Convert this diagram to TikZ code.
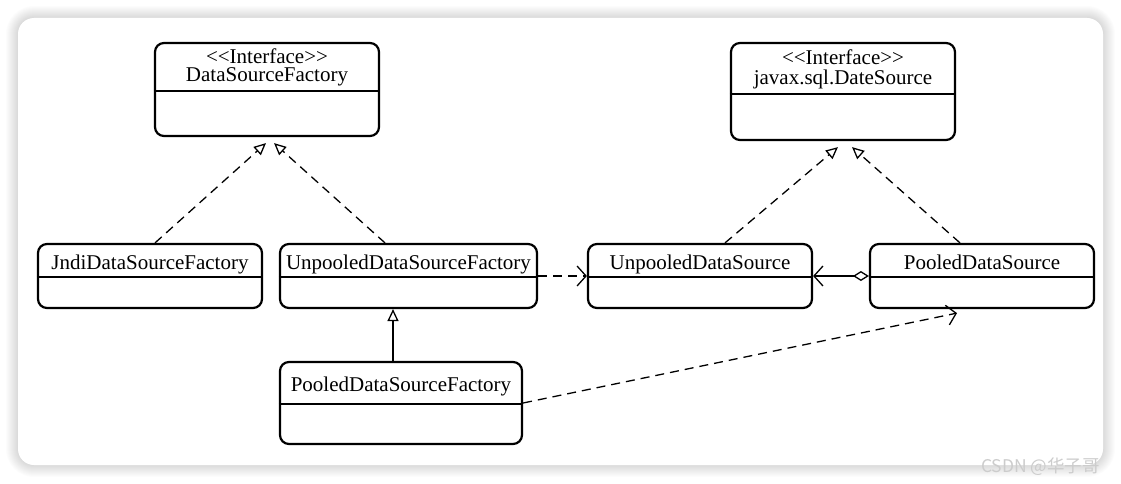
\documentclass[tikz,border=0pt]{standalone}
\usepackage{fontspec}
\setmainfont{Liberation Serif}[Ligatures=TeXOff]
\newfontfamily\cjk{Noto Sans CJK SC}
\usetikzlibrary{arrows.meta,calc}
\begin{document}
\begin{tikzpicture}[x=1pt,y=1pt,
  cls/.style={draw, line width=2.2pt, rounded corners=9pt, fill=white, inner sep=0pt},
  lbl/.style={font=\fontsize{21}{18}\selectfont, inner sep=0pt, anchor=base, align=center},
  divider/.style={line width=2.2pt},
  conn/.style={line width=1.3pt},
  dsh/.style={conn, dash pattern=on 9pt off 6pt},
  realize/.style={-{Triangle[open,length=12pt,width=11pt,line width=1.3pt]}},
  dep/.style={-{Straight Barb[length=9pt,width=20pt,line width=1.3pt]}},
  aggr/.style={{Diamond[open,length=16pt,width=10pt,line width=1.3pt]}-{Straight Barb[length=9pt,width=20pt,line width=1.3pt]}},
]
\useasboundingbox (0,0) rectangle (1121,483);
% card with shadow
\foreach \i in {1,...,12}{
  \fill[black, opacity=0.011, rounded corners=16pt+\i pt] (18-\i,18-\i) rectangle (1103+\i,465+\i);
}
\fill[white, rounded corners=16pt] (18,18) rectangle (1103,465);

% classes
\node[cls, minimum width=224pt, minimum height=93pt] (dsf) at (267,393.5) {};
\node[lbl] (dsfname) at (267,401) {<<Interface>>\\DataSourceFactory};
\draw[divider] (dsf.west |- 0,392) -- (dsf.east |- 0,392);

\node[cls, minimum width=224pt, minimum height=97pt] (jds) at (843,391.5) {};
\node[lbl] (jdsname) at (843,398) {<<Interface>>\\[2pt]javax.sql.DateSource};
\draw[divider] (jds.west |- 0,389) -- (jds.east |- 0,389);

\node[cls, minimum width=224pt, minimum height=64pt] (jndi) at (150,207) {};
\node[lbl] (jndiname) at (150,214) {JndiDataSourceFactory};
\draw[divider] (jndi.west |- 0,206) -- (jndi.east |- 0,206);

\node[cls, minimum width=257pt, minimum height=64pt] (udsf) at (408.5,207) {};
\node[lbl] (udsfname) at (408.5,214) {UnpooledDataSourceFactory};
\draw[divider] (udsf.west |- 0,206) -- (udsf.east |- 0,206);

\node[cls, minimum width=224pt, minimum height=64pt] (uds) at (700,207) {};
\node[lbl] (udsname) at (700,214) {UnpooledDataSource};
\draw[divider] (uds.west |- 0,206) -- (uds.east |- 0,206);

\node[cls, minimum width=224pt, minimum height=64pt] (pds) at (982,207) {};
\node[lbl] (pdsname) at (982,214) {PooledDataSource};
\draw[divider] (pds.west |- 0,206) -- (pds.east |- 0,206);

\node[cls, minimum width=242pt, minimum height=82pt] (pdsf) at (401,80) {};
\node[lbl] (pdsfname) at (401,92) {PooledDataSourceFactory};
\draw[divider] (pdsf.west |- 0,79) -- (pdsf.east |- 0,79);

% connectors
\draw[dsh, realize] ($(jndi.north)+(5,0)$) -- ($(dsf.south)+(-1,-6)$);
\draw[dsh, realize] ($(udsf.north)+(-23.5,0)$) -- ($(dsf.south)+(7,-6)$);
\draw[dsh, realize] ($(uds.north)+(25,0)$) -- ($(jds.south)+(-5,-6)$);
\draw[dsh, realize] ($(pds.north)+(-22,0)$) -- ($(jds.south)+(9,-6)$);
\draw[dsh, dep] (udsf.east) -- (uds.west);
\draw[conn, aggr] (pds.west) -- (uds.east);
\draw[conn, realize] ($(pdsf.north)+(-8,0)$) -- ($(udsf.south)+(-15.5,0)$);
\draw[dsh, dep] (pdsf.east) -- ($(pds.south)+(-25,-4)$);

% watermark
\node[font=\cjk\fontsize{17.5}{18}\selectfont, text=black!20, anchor=base east, inner sep=0pt] (wm) at (1100,11) {CSDN @华子哥};
\end{tikzpicture}
\end{document}
